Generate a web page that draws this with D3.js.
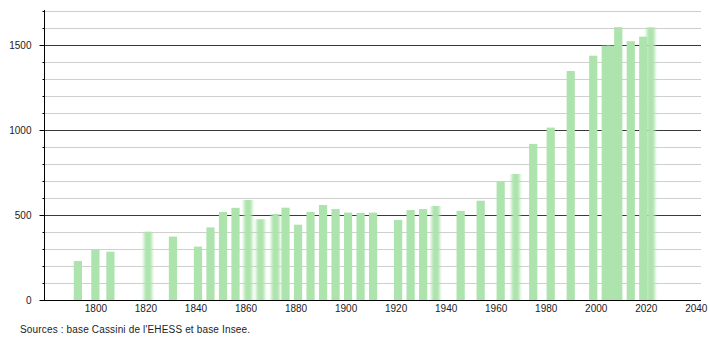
<!DOCTYPE html>
<html>
<head>
<meta charset="utf-8">
<script src="https://cdn.jsdelivr.net/npm/d3@7"></script>
<style>
  html, body { margin: 0; padding: 0; background: #fff; }
  svg { display: block; }
  text { font-family: "Liberation Sans", Arial, sans-serif; }
</style>
</head>
<body>
<svg id="chart" width="710" height="340"></svg>
<script>
// ---- data ----
const years = [1793, 1800, 1806, 1821, 1831, 1841, 1846, 1851, 1856, 1861, 1866, 1872, 1876, 1881, 1886, 1891, 1896, 1901, 1906, 1911, 1921, 1926, 1931, 1936, 1946, 1954, 1962, 1968, 1975, 1982, 1990, 1999, 2004, 2006, 2009, 2014, 2019, 2022];
const population = [229, 298, 284, 402, 373, 314, 427, 518, 542, 588, 475, 506, 543, 443, 518, 559, 535, 514, 512, 514, 471, 529, 535, 553, 524, 584, 696, 741, 918, 1014, 1347, 1437, 1496, 1496, 1605, 1522, 1549, 1604];
const xTickLabels = [1800, 1820, 1840, 1860, 1880, 1900, 1920, 1940, 1960, 1980, 2000, 2020, 2040];
const yTickLabels = [0, 500, 1000, 1500];
const yMinorTicks = d3.range(0, 1701, 100);
const sourceText = "Sources : base Cassini de l'EHESS et base Insee.";
// years whose bars look softened in the reference (styling only)
const softYears = new Set([1821, 1861, 1866, 1872, 1936, 1968, 2022]);

// ---- layout ----
const plotLeft = 44, plotRight = 701, plotTop = 11, plotBottom = 300;
const svg = d3.select("#chart");

const x = d3.scaleLinear().domain([1800, 2040]).range([95.4, 695.8]);
const y = d3.scaleLinear().domain([0, 1700]).range([plotBottom, plotTop]);
const barW = 8.2;

const defs = svg.append("defs");
defs.append("filter").attr("id", "soft")
  .attr("x", "-60%").attr("y", "-5%").attr("width", "220%").attr("height", "110%")
  .append("feGaussianBlur").attr("stdDeviation", "1.7 0.5");

// gridlines
const gridVals = d3.range(100, 1701, 100);
svg.append("g").selectAll("line").data(gridVals).join("line")
  .attr("x1", plotLeft).attr("x2", plotRight)
  .attr("y1", d => Math.round(y(d)) + 0.5).attr("y2", d => Math.round(y(d)) + 0.5)
  .attr("stroke", d => d % 500 === 0 ? "#3a3a3a" : "#cfcfcf")
  .attr("stroke-width", 1);

// bars
const data = years.map((yr, i) => ({ year: yr, value: population[i] }));
svg.append("g").selectAll("rect").data(data).join("rect")
  .attr("x", d => x(d.year) - barW / 2)
  .attr("y", d => y(d.value))
  .attr("width", barW)
  .attr("height", d => plotBottom - y(d.value))
  .attr("fill", "#ade3ad")
  .attr("filter", d => softYears.has(d.year) ? "url(#soft)" : null);

// y axis: minor ticks
const yMinor = d3.axisLeft(y).tickValues(yMinorTicks).tickSize(2).tickFormat("").tickSizeOuter(0);
const gMinor = svg.append("g").attr("transform", `translate(${plotLeft + 0.5},0)`).call(yMinor);
gMinor.select(".domain").remove();
gMinor.selectAll("line").attr("stroke", "#000");

// y axis: major ticks with labels
const yMajor = d3.axisLeft(y).tickValues(yTickLabels).tickSize(5).tickPadding(8).tickSizeOuter(0).tickFormat(d3.format("d"));
const gMajor = svg.append("g").attr("transform", `translate(${plotLeft + 0.5},0)`).call(yMajor);
gMajor.select(".domain").remove();
gMajor.selectAll("line").attr("stroke", "#000");
gMajor.selectAll("text").attr("font-size", 10).attr("fill", "#222")
  .attr("font-family", "'Liberation Sans', Arial, sans-serif");

// y axis line
svg.append("line")
  .attr("x1", plotLeft + 0.5).attr("x2", plotLeft + 0.5)
  .attr("y1", plotTop - 1).attr("y2", plotBottom + 0.5)
  .attr("stroke", "#000").attr("stroke-width", 1);

// x axis
const xAxis = d3.axisBottom(x).tickValues(xTickLabels).tickSize(0).tickPadding(4.5).tickSizeOuter(0).tickFormat(d3.format("d"));
const gx = svg.append("g").attr("transform", `translate(0,${plotBottom})`).call(xAxis);
gx.select(".domain").remove();
gx.selectAll("text").attr("font-size", 10).attr("fill", "#222")
  .attr("font-family", "'Liberation Sans', Arial, sans-serif");
svg.append("line")
  .attr("x1", plotLeft).attr("x2", plotRight)
  .attr("y1", plotBottom + 0.5).attr("y2", plotBottom + 0.5)
  .attr("stroke", "#000").attr("stroke-width", 1);

// source note
svg.append("text")
  .attr("x", 20).attr("y", 332.5)
  .attr("font-size", 10).attr("fill", "#222")
  .attr("textLength", 230).attr("lengthAdjust", "spacing")
  .text(sourceText);
</script>
</body>
</html>
